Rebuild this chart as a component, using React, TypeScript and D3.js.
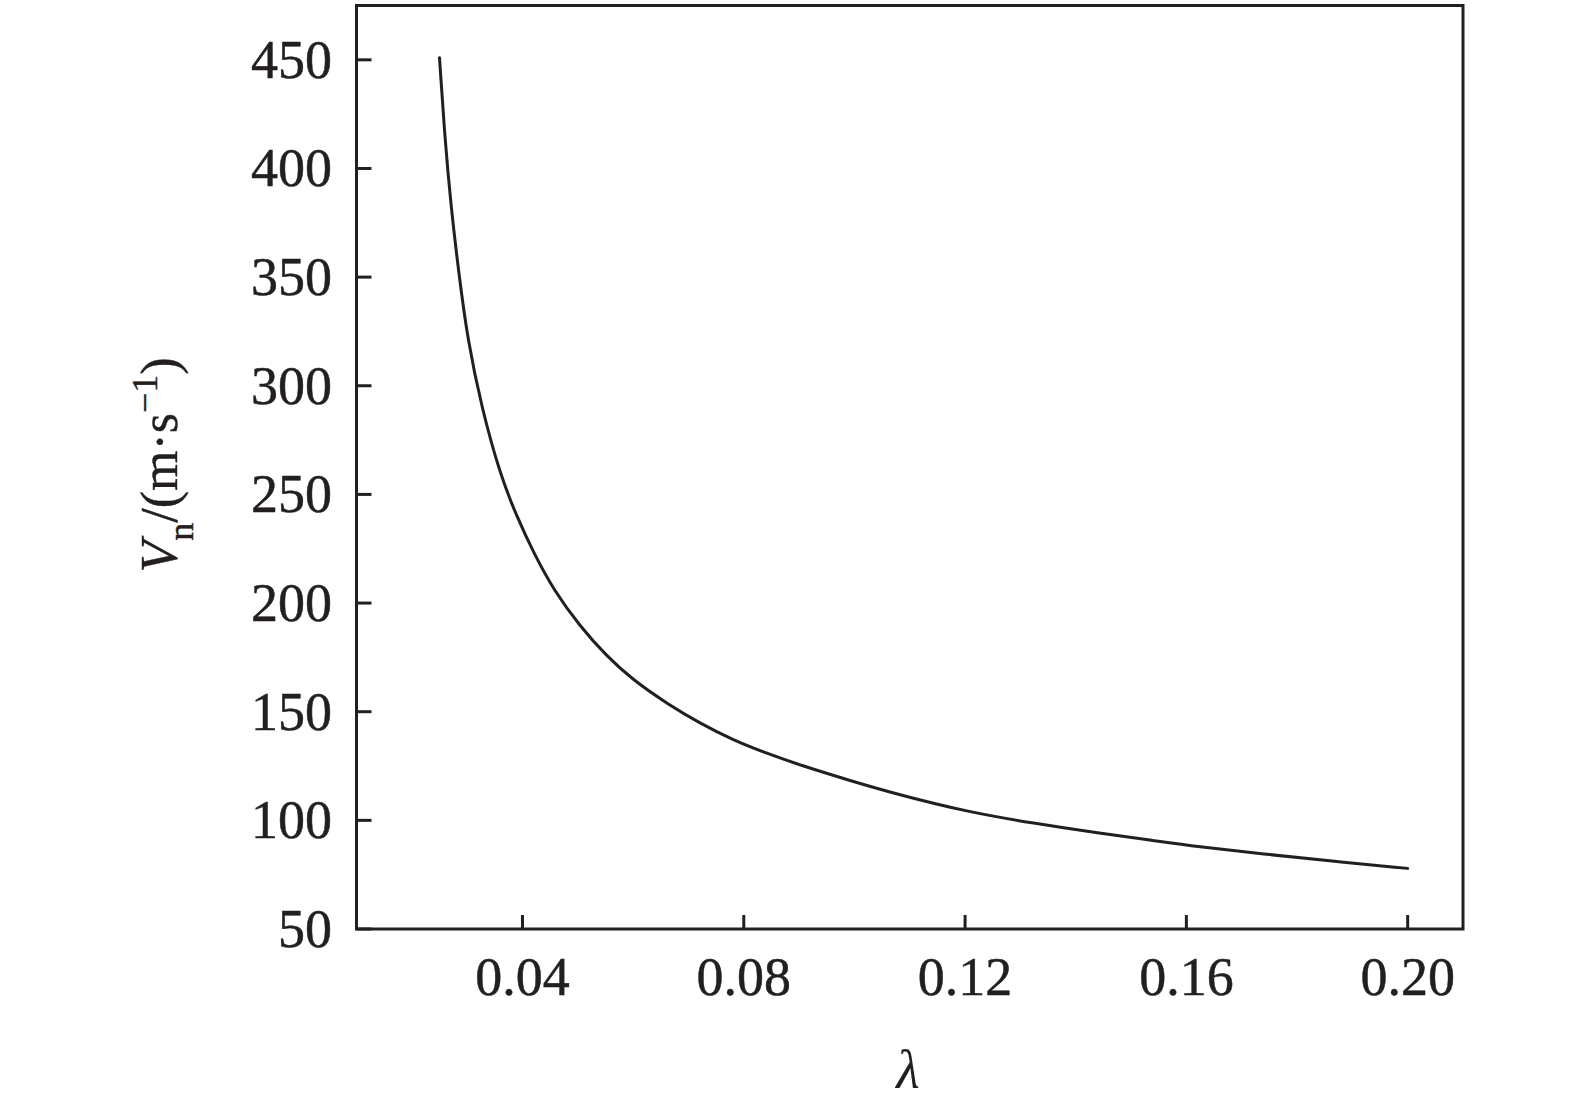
import React from "react";
import * as d3 from "d3";

const lambdaValues = [0.025, 0.026, 0.0271, 0.0285, 0.0301, 0.0326, 0.0359, 0.039, 0.042, 0.0456, 0.0504, 0.0552, 0.06, 0.0661, 0.0721, 0.0781, 0.0842, 0.0902, 0.0992, 0.1083, 0.1203, 0.1324, 0.1444, 0.1535, 0.1619, 0.174, 0.186, 0.2];
const vnValues = [451, 413, 382, 351.6, 320.9, 290.2, 259.6, 239.6, 223.2, 206.1, 189.3, 175.6, 164.5, 153.8, 144.6, 136.9, 130.8, 125.4, 118.3, 111.6, 104, 98.6, 94, 90.9, 87.9, 84.5, 81.3, 77.9];
const xTicks = [0.04, 0.08, 0.12, 0.16, 0.2];
const xTickLabels = ["0.04", "0.08", "0.12", "0.16", "0.20"];
const yTicks = [50, 100, 150, 200, 250, 300, 350, 400, 450];

const W = 1575;
const H = 1112;
const left = 356.5;
const right = 1463;
const top = 5.5;
const bottom = 929;
const ink = "#231f20";
const font = "'Liberation Serif', 'Times New Roman', serif";

export default function App() {
  const x = d3.scaleLinear().domain([0.01, 0.21]).range([left, right]);
  const y = d3.scaleLinear().domain([50, 475]).range([bottom, top]);
  const pts: [number, number][] = lambdaValues.map((l, i) => [l, vnValues[i]]);
  const line = d3
    .line<[number, number]>()
    .x((d) => x(d[0]))
    .y((d) => y(d[1]))
    .curve(d3.curveBasis);

  return (
    <svg
      width={W}
      height={H}
      style={{ position: "absolute", left: 0, top: 0, background: "#fff" }}
      fontFamily={font}
    >
      <rect x={0} y={0} width={W} height={H} fill="#fff" />
      {xTicks.map((t) => (
        <line key={"xt" + t} x1={x(t)} x2={x(t)} y1={bottom} y2={bottom - 14} stroke={ink} strokeWidth={3} />
      ))}
      {yTicks.map((t) => (
        <line key={"yt" + t} x1={left} x2={left + 15} y1={y(t)} y2={y(t)} stroke={ink} strokeWidth={3} />
      ))}
      <rect x={left} y={top} width={right - left} height={bottom - top} fill="none" stroke={ink} strokeWidth={3} />
      <path d={line(pts) || ""} fill="none" stroke={ink} strokeWidth={3} strokeLinejoin="round" strokeLinecap="round" />
      {xTicks.map((t, i) => (
        <text key={"xl" + t} x={x(t)} y={995} textAnchor="middle" fontSize={54} fill={ink} stroke={ink} strokeWidth={0.5}>
          {xTickLabels[i]}
        </text>
      ))}
      {yTicks.map((t) => (
        <text key={"yl" + t} x={332} y={y(t)} dy="0.33em" textAnchor="end" fontSize={54} fill={ink} stroke={ink} strokeWidth={0.5}>
          {t}
        </text>
      ))}
      <text x={908} y={1088} textAnchor="middle" fontSize={54} fontStyle="italic" fill={ink}>
        λ
      </text>
      <text transform={`translate(177, 465) rotate(-90)`} textAnchor="middle" fontSize={52} fill={ink} stroke={ink} strokeWidth={0.4}>
        <tspan fontStyle="italic">V</tspan>
        <tspan fontSize={36} dy={16}>n</tspan>
        <tspan dy={-16}>/(m·s</tspan>
        <tspan fontSize={36} dy={-20}>−1</tspan>
        <tspan dy={20}>)</tspan>
      </text>
    </svg>
  );
}
